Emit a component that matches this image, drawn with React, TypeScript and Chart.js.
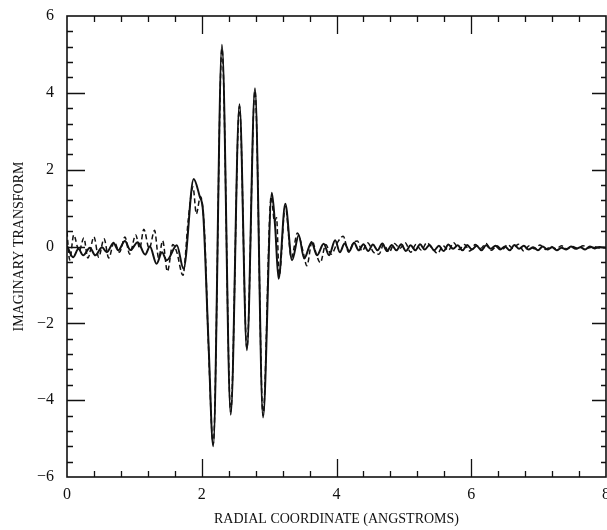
import React, { useEffect, useRef } from "react";
import { Chart, registerables } from "chart.js";

Chart.register(...registerables);

// Solid curve (x in Angstroms, y = imaginary transform)
const solidX = [
  0.0, 0.09, 0.17, 0.24, 0.34, 0.42, 0.52, 0.59, 0.69, 0.76, 0.86, 0.94, 1.05, 1.16, 1.23, 1.33, 1.41, 1.48, 1.63, 1.73,
  1.88, 1.97, 2.02, 2.1, 2.17, 2.3, 2.43, 2.56, 2.67, 2.79, 2.91, 3.04, 3.09, 3.14, 3.24, 3.34, 3.44, 3.52, 3.63, 3.71,
  3.81, 3.89, 3.98, 4.05, 4.12, 4.19, 4.26, 4.33, 4.4, 4.47, 4.54, 4.61, 4.68, 4.75, 4.82, 4.89, 4.96, 5.03, 5.1, 5.17,
  5.24, 5.31, 5.38, 5.45, 5.52, 5.59, 5.66, 5.73, 5.8, 5.87, 5.94, 6.01, 6.08, 6.15, 6.22, 6.29, 6.36, 6.43, 6.5, 6.57,
  6.64, 6.71, 6.78, 6.85, 6.92, 6.99, 7.06, 7.13, 7.2, 7.27, 7.34, 7.41, 7.48, 7.55, 7.62, 7.69, 7.76, 7.83, 7.9, 8.0,
];
const solidY = [
  0.02, -0.28, -0.06, -0.23, -0.03, -0.23, -0.02, -0.15, 0.09, -0.1, 0.14, -0.09, 0.11, -0.21, 0.0, -0.45, -0.15, -0.36, 0.03, -0.58,
  1.76, 1.3, 0.9, -2.5, -5.2, 5.25, -4.38, 3.7, -2.7, 4.12, -4.45, 1.4, 0.5, -0.84, 1.11, -0.36, 0.29, -0.31, 0.11, -0.23,
  0.07, -0.23, 0.16, -0.15, 0.08, -0.12, 0.1, -0.1, 0.06, -0.12, 0.05, -0.1, 0.08, -0.12, 0.04, -0.1, 0.06, -0.12, 0.03, -0.1,
  0.06, -0.08, 0.04, -0.1, 0.02, -0.12, 0.05, -0.06, 0.03, -0.1, 0.04, -0.08, 0.02, -0.1, 0.03, -0.06, 0.02, -0.08, 0.0, -0.1,
  0.04, -0.06, 0.02, -0.08, -0.02, -0.1, 0.0, -0.08, -0.02, -0.1, -0.03, -0.08, 0.0, -0.06, -0.02, -0.08, 0.0, -0.05, -0.01, -0.04,
];

// Dashed curve
const dashedX = [
  0.0, 0.04, 0.1, 0.18, 0.25, 0.31, 0.4, 0.47, 0.55, 0.62, 0.7, 0.78, 0.86, 0.93, 1.02, 1.08, 1.14, 1.22, 1.3, 1.36,
  1.42, 1.49, 1.57, 1.63, 1.72, 1.8, 1.87, 1.92, 1.98, 2.04, 2.1, 2.17, 2.3, 2.43, 2.56, 2.67, 2.79, 2.91, 3.03, 3.08,
  3.11, 3.15, 3.24, 3.33, 3.42, 3.5, 3.56, 3.64, 3.7, 3.76, 3.84, 3.92, 4.02, 4.1, 4.18, 4.25, 4.31, 4.38, 4.46, 4.55,
  4.63, 4.7, 4.78, 4.86, 4.94, 5.02, 5.1, 5.18, 5.26, 5.34, 5.42, 5.5, 5.58, 5.66, 5.74, 5.82, 5.9, 5.98, 6.06, 6.14,
  6.22, 6.3, 6.38, 6.46, 6.54, 6.62, 6.7, 6.78, 6.86, 6.94, 7.02, 7.1, 7.18, 7.26, 7.34, 7.42, 7.5, 7.58, 7.66, 7.74,
  7.82, 7.9, 8.0,
];
const dashedY = [
  0.38, -0.35, 0.3, -0.12, 0.22, -0.3, 0.25, -0.28, 0.2, -0.3, 0.12, -0.15, 0.25, -0.2, 0.3, -0.05, 0.45, -0.05, 0.42, -0.3,
  0.15, -0.65, 0.05, -0.15, -0.75, 0.7, 1.55, 0.85, 1.3, 0.4, -2.6, -5.15, 5.15, -4.3, 3.65, -2.65, 4.05, -4.4, 1.3, 0.65,
  0.75, -0.75, 1.05, -0.3, 0.35, -0.1, -0.5, 0.15, -0.2, -0.42, 0.05, -0.2, 0.12, 0.27, -0.15, 0.1, 0.14, -0.12, 0.1, -0.15,
  -0.2, 0.05, -0.15, 0.08, -0.05, 0.1, -0.15, 0.05, -0.1, 0.1, -0.05, -0.18, 0.02, -0.1, 0.1, -0.08, 0.05, -0.12, 0.05, -0.05,
  0.08, -0.1, 0.02, -0.08, 0.05, -0.05, 0.06, -0.12, 0.02, -0.06, 0.04, -0.08, 0.0, -0.06, 0.02, -0.06, 0.0, -0.05, 0.02, -0.04,
  0.0, -0.04, -0.02,
];

const X_MIN = 0;
const X_MAX = 8;
const Y_MIN = -6;
const Y_MAX = 6;
const TICK_STEP = 2;
const MINOR_STEP = 0.4;

const INK = "#111";
const FONT = "'Liberation Serif', 'DejaVu Serif', serif";

const innerTicks = {
  id: "innerTicks",
  afterDatasetsDraw(chart: any) {
    const { ctx, chartArea, scales } = chart;
    const { left, right, top, bottom } = chartArea;
    const xs = scales.x;
    const ys = scales.y;
    ctx.save();
    ctx.strokeStyle = INK;
    ctx.lineWidth = 1.3;
    ctx.beginPath();
    const nX = Math.round((X_MAX - X_MIN) / MINOR_STEP);
    for (let i = 1; i < nX; i++) {
      const v = X_MIN + i * MINOR_STEP;
      const px = Math.round(xs.getPixelForValue(v)) + 0.5;
      const major = i % 5 === 0;
      const len = major ? 18 : 6;
      ctx.moveTo(px, bottom);
      ctx.lineTo(px, bottom - len);
      ctx.moveTo(px, top);
      ctx.lineTo(px, top + len);
    }
    const nY = Math.round((Y_MAX - Y_MIN) / MINOR_STEP);
    for (let i = 1; i < nY; i++) {
      const v = Y_MIN + i * MINOR_STEP;
      const py = Math.round(ys.getPixelForValue(v)) + 0.5;
      const major = i % 5 === 0;
      ctx.moveTo(left, py);
      ctx.lineTo(left + (major ? 18 : 6), py);
      ctx.moveTo(right, py);
      ctx.lineTo(right - (major ? 14 : 5), py);
    }
    ctx.stroke();
    ctx.lineWidth = 1.6;
    ctx.strokeRect(left, top, right - left, bottom - top);
    ctx.restore();
  },
};

export default function App() {
  const canvasRef = useRef<HTMLCanvasElement | null>(null);

  useEffect(() => {
    const canvas = canvasRef.current;
    if (!canvas) return;
    const solidData = solidX.map((x, i) => ({ x, y: solidY[i] }));
    const dashedData = dashedX.map((x, i) => ({ x, y: dashedY[i] }));
    const chart = new Chart(canvas, {
      type: "line",
      data: {
        datasets: [
          {
            label: "solid",
            data: solidData,
            borderColor: INK,
            borderWidth: 2,
            pointRadius: 0,
            cubicInterpolationMode: "monotone",
            fill: false,
          },
          {
            label: "dashed",
            data: dashedData,
            borderColor: INK,
            borderWidth: 1.5,
            borderDash: [5, 3],
            pointRadius: 0,
            cubicInterpolationMode: "monotone",
            fill: false,
          },
        ],
      },
      options: {
        animation: false,
        responsive: false,
        devicePixelRatio: 1,
        layout: { padding: { left: 0, right: 7, top: 16, bottom: 0 } },
        plugins: {
          legend: { display: false },
          tooltip: { enabled: false },
        },
        scales: {
          x: {
            type: "linear",
            min: X_MIN,
            max: X_MAX,
            grid: { display: false, drawTicks: false },
            border: { display: false },
            ticks: {
              stepSize: TICK_STEP,
              color: INK,
              padding: 8,
              maxRotation: 0,
              font: { family: FONT, size: 16 },
            },
            title: {
              display: true,
              text: "RADIAL COORDINATE (ANGSTROMS)",
              color: INK,
              padding: { top: 0, bottom: 2 },
              font: { family: FONT, size: 14 },
            },
            afterFit: (s: any) => {
              s.height = 53;
            },
          },
          y: {
            type: "linear",
            min: Y_MIN,
            max: Y_MAX,
            grid: { display: false, drawTicks: false },
            border: { display: false },
            ticks: {
              stepSize: TICK_STEP,
              color: INK,
              padding: 13,
              font: { family: FONT, size: 16 },
              callback: (v: any) => (Number(v) < 0 ? "\u2212" + Math.abs(Number(v)) : String(v)),
            },
            title: {
              display: true,
              text: "IMAGINARY TRANSFORM",
              color: INK,
              padding: { top: 11, bottom: 0 },
              font: { family: FONT, size: 14 },
            },
            afterFit: (s: any) => {
              s.width = 67;
              s.paddingTop = 0;
              s.paddingBottom = 0;
            },
          },
        },
      },
      plugins: [innerTicks],
    });
    return () => chart.destroy();
  }, []);

  return (
    <div
      style={{
        position: "absolute",
        left: 0,
        top: 0,
        width: 607,
        height: 530,
        overflow: "hidden",
        background: "#fff",
      }}
    >
      <canvas ref={canvasRef} width={618} height={530} style={{ width: 618, height: 530, display: "block" }} />
    </div>
  );
}
